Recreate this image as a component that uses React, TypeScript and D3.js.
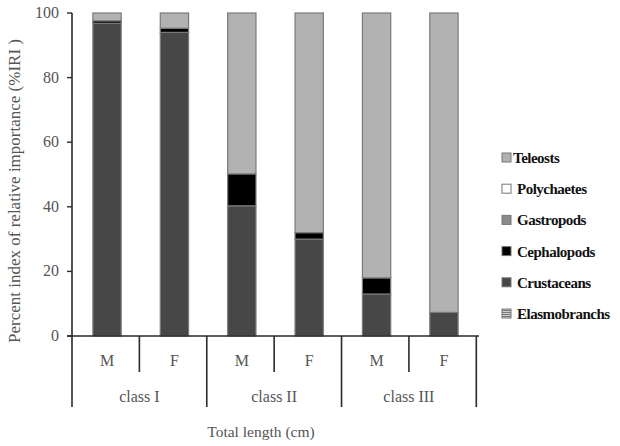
import React, { useRef, useEffect } from "react";
import * as d3 from "d3";

// bars, left to right
const bars = ["I-M", "I-F", "II-M", "II-F", "III-M", "III-F"];
const sexes = ["M", "F", "M", "F", "M", "F"];
const classes = ["class I", "class II", "class III"];

// prey groups, bottom of stack first
const preyGroups = ["Elasmobranchs", "Crustaceans", "Cephalopods", "Gastropods", "Polychaetes", "Teleosts"];
const elasmobranchs = [0, 0, 0, 0, 0, 0];
const crustaceans = [96.8, 94, 40.3, 30, 13, 7.3];
const cephalopods = [0.8, 1.3, 9.9, 2, 5, 0];
const gastropods = [0, 0, 0, 0, 0, 0];
const polychaetes = [0, 0, 0, 0, 0, 0];
const teleosts = [2.4, 4.7, 49.8, 68, 82, 92.7];

const yTicks = [0, 20, 40, 60, 80, 100];

const fills: Record<string, string> = {
  Teleosts: "#b2b2b2",
  Polychaetes: "#ffffff",
  Gastropods: "#8a8a8a",
  Cephalopods: "#000000",
  Crustaceans: "#474747",
  Elasmobranchs: "#a8a8a8",
};

const App = () => {
  const ref = useRef<SVGSVGElement>(null);

  useEffect(() => {
    const width = 620, height = 446;
    const left = 72, right = 479, top = 13, bottom = 336, axisBottom = 407;
    const font = "Liberation Serif, Times New Roman, Times, DejaVu Serif, serif";

    const svg = d3.select(ref.current);
    svg.selectAll("*").remove();
    svg.attr("width", width).attr("height", height);

    const x = d3.scaleBand<string>().domain(bars).range([left, right])
      .paddingInner(0.58).paddingOuter(0.31).align(0.5);
    const y = d3.scaleLinear().domain([0, 100]).range([bottom, top]);

    const table = bars.map((b, i) => ({
      bar: b,
      Elasmobranchs: elasmobranchs[i],
      Crustaceans: crustaceans[i],
      Cephalopods: cephalopods[i],
      Gastropods: gastropods[i],
      Polychaetes: polychaetes[i],
      Teleosts: teleosts[i],
    }));
    const series = d3.stack<any>().keys(preyGroups)(table);

    // pattern for elasmobranchs
    const defs = svg.append("defs");
    const pat = defs.append("pattern").attr("id", "elasmo").attr("width", 4).attr("height", 2)
      .attr("patternUnits", "userSpaceOnUse");
    pat.append("rect").attr("width", 4).attr("height", 2).attr("fill", "#d0d0d0");
    pat.append("rect").attr("width", 4).attr("height", 1).attr("fill", "#777");

    series.forEach(s => {
      svg.append("g").selectAll("rect")
        .data(s.filter(d => d[1] - d[0] > 0))
        .enter()
        .append("rect")
        .attr("x", d => x(d.data.bar) as number)
        .attr("width", x.bandwidth())
        .attr("y", d => y(d[1]))
        .attr("height", d => y(d[0]) - y(d[1]))
        .attr("fill", s.key === "Elasmobranchs" ? "url(#elasmo)" : fills[s.key])
        .attr("stroke", "#7a7a7a")
        .attr("stroke-width", 1.2);
    });

    // axes
    const axisColor = "#2a2a2a";
    svg.append("line").attr("x1", left).attr("x2", left).attr("y1", top).attr("y2", axisBottom)
      .attr("stroke", axisColor).attr("stroke-width", 1.6);
    svg.append("line").attr("x1", left - 5).attr("x2", right).attr("y1", bottom).attr("y2", bottom)
      .attr("stroke", axisColor).attr("stroke-width", 1.6);

    svg.selectAll(".ytick").data(yTicks).enter().append("line")
      .attr("x1", left - 5).attr("x2", left).attr("y1", d => y(d)).attr("y2", d => y(d))
      .attr("stroke", axisColor).attr("stroke-width", 1.4);
    svg.selectAll(".ylab").data(yTicks).enter().append("text")
      .attr("x", left - 13).attr("y", d => y(d) + 5)
      .attr("text-anchor", "end").attr("font-family", font).attr("font-size", 16)
      .attr("fill", "#555").text(d => d);

    // category separators
    const step = x.step();
    bars.forEach((b, i) => {
      const xr = left + step * (i + 1);
      const full = i % 2 === 1;
      svg.append("line").attr("x1", xr).attr("x2", xr).attr("y1", bottom)
        .attr("y2", full ? axisBottom : 372)
        .attr("stroke", axisColor).attr("stroke-width", 1.6);
      svg.append("text")
        .attr("x", (x(b) as number) + x.bandwidth() / 2).attr("y", 366)
        .attr("text-anchor", "middle").attr("font-family", font).attr("font-size", 16)
        .attr("fill", "#555").text(sexes[i]);
    });
    classes.forEach((c, i) => {
      svg.append("text")
        .attr("x", left + step * (2 * i + 1)).attr("y", 402)
        .attr("text-anchor", "middle").attr("font-family", font).attr("font-size", 16)
        .attr("fill", "#555").text(c);
    });

    svg.append("text").attr("x", 261).attr("y", 437)
      .attr("text-anchor", "middle").attr("font-family", font).attr("font-size", 15.5)
      .attr("fill", "#555").text("Total length (cm)");

    svg.append("text")
      .attr("transform", `translate(20, 191) rotate(-90)`)
      .attr("text-anchor", "middle").attr("font-family", font).attr("font-size", 17)
      .attr("fill", "#555").text("Percent index of relative importance (%IRI )");

    // legend
    const legendOrder = [...preyGroups].reverse();
    const lg = svg.append("g").attr("transform", "translate(502, 158)");
    legendOrder.forEach((k, i) => {
      const g = lg.append("g").attr("transform", `translate(0, ${i * 31.2})`);
      g.append("rect").attr("x", 0).attr("y", -5).attr("width", 9).attr("height", 9)
        .attr("fill", k === "Elasmobranchs" ? "url(#elasmo)" : fills[k])
        .attr("stroke", "#777").attr("stroke-width", 1);
      g.append("text").attr("x", k === "Teleosts" ? 11 : 15).attr("y", 5)
        .attr("font-family", font).attr("font-size", 15).attr("font-weight", "bold")
        .attr("letter-spacing", -0.5).attr("fill", "#111").text(k);
    });
  }, []);

  return (
    <svg ref={ref} style={{ position: "absolute", left: 0, top: 0, background: "#fff" }} />
  );
};

export default App;
